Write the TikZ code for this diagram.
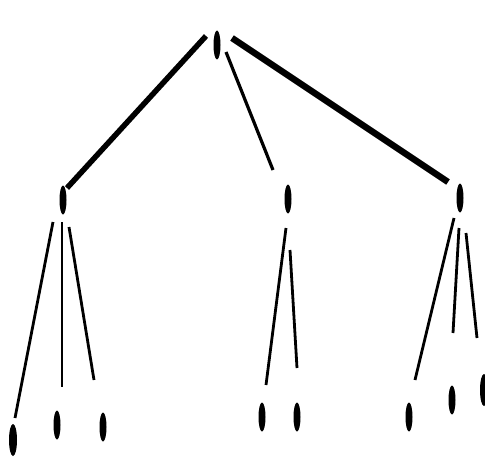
\documentclass[tikz,border=0pt]{standalone}
\usetikzlibrary{shapes.geometric}
\begin{document}
\begin{tikzpicture}[x=1pt,y=-1pt,
  dot/.style={fill=black,draw=none,ellipse,minimum width=7pt,minimum height=29pt,inner sep=0pt},
  bigdot/.style={dot,minimum width=8pt,minimum height=32pt},
  midedge/.style={line width=3.2pt},
  thinedge/.style={line width=2.8pt}]
\useasboundingbox[fill=white] (0,0) rectangle (485,460);
% nodes
\node[dot] (root) at (217,45) {};
\node[dot] (L) at (63,200) {};
\node[dot] (M) at (288,199) {};
\node[dot] (R) at (460,198) {};
\node[bigdot] (L1) at (13,440) {};
\node[dot] (L2) at (57,425) {};
\node[dot] (L3) at (103,427) {};
\node[dot] (M1) at (262,417) {};
\node[dot] (M2) at (297,417) {};
\node[dot] (R1) at (409,417) {};
\node[dot] (R2) at (452,400) {};
\node[bigdot] (R3) at (484,390) {};
% edge endpoints (gaps to the nodes)
\coordinate (rl1) at (206,36); \coordinate (rl2) at (67,188);
\coordinate (rm1) at (226,52); \coordinate (rm2) at (273,170);
\coordinate (rr1) at (232,38); \coordinate (rr2) at (448,182);
\coordinate (la1) at (53,222); \coordinate (la2) at (15,418);
\coordinate (lb1) at (62,222); \coordinate (lb2) at (62,387);
\coordinate (lc1) at (69,227); \coordinate (lc2) at (94,380);
\coordinate (ma1) at (286,228); \coordinate (ma2) at (266,385);
\coordinate (mb1) at (290,250); \coordinate (mb2) at (297,368);
\coordinate (ra1) at (454,218); \coordinate (ra2) at (415,380);
\coordinate (rb1) at (459,228); \coordinate (rb2) at (453,333);
\coordinate (rc1) at (466,233); \coordinate (rc2) at (477,338);
\draw[line width=5.5pt] (rl1) -- (rl2);
\draw[midedge] (rm1) -- (rm2);
\draw[line width=6.5pt] (rr1) -- (rr2);
\draw[thinedge] (la1) -- (la2);
\draw[thinedge] (lb1) -- (lb2);
\draw[thinedge] (lc1) -- (lc2);
\draw[thinedge] (ma1) -- (ma2);
\draw[thinedge] (mb1) -- (mb2);
\draw[thinedge] (ra1) -- (ra2);
\draw[thinedge] (rb1) -- (rb2);
\draw[thinedge] (rc1) -- (rc2);
\end{tikzpicture}
\end{document}
